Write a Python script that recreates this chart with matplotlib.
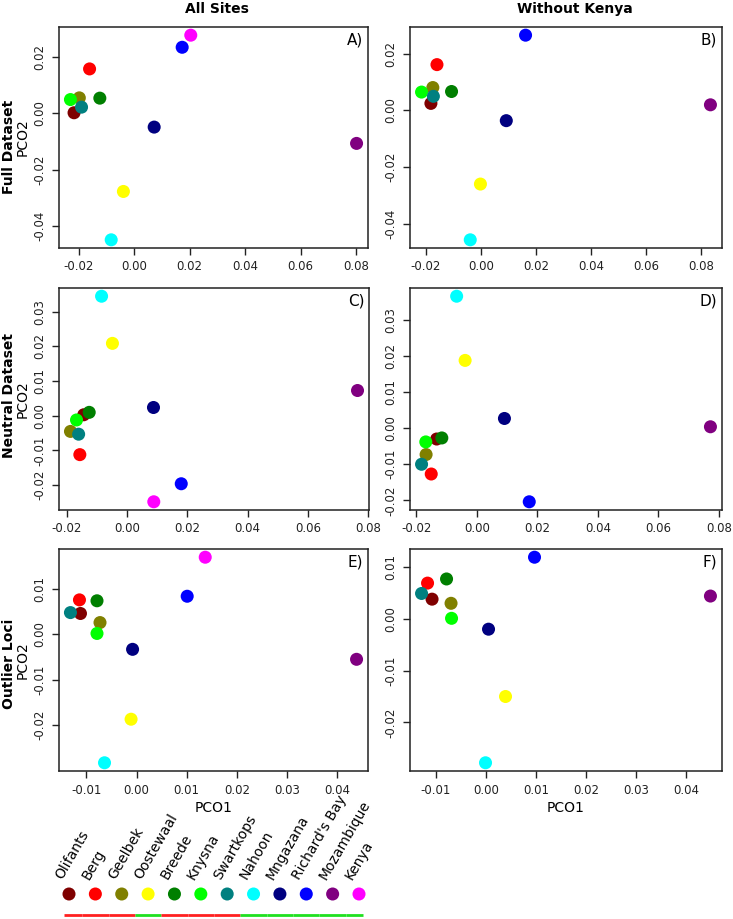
import numpy as np
import matplotlib
matplotlib.use("Agg")
import matplotlib.pyplot as plt

plt.rcParams['font.family'] = ['DejaVu Sans']

sites = ["Olifants", "Berg", "Geelbek", "Oostewaal", "Breede", "Knysna",
         "Swartkops", "Nahoon", "Mngazana", "Richard's Bay", "Mozambique", "Kenya"]
site_cols = ["#7f0000", "#ff0000", "#808000", "#ffff00", "#007f00", "#00ff00",
             "#008080", "#00ffff", "#000080", "#0000ff", "#800080", "#ff00ff"]
# region bar under the legend: r = red, g = green
region = ["r", "r", "r", "g", "r", "r", "r", "g", "g", "g", "g", "g"]
region_cols = {"r": "#ff2020", "g": "#20e020"}

# A) full dataset, all sites
full_all_x = [-0.0217, -0.0161, -0.0198, -0.0039, -0.0124, -0.0230,
              -0.0190, -0.0083, 0.0072, 0.0173, 0.0802, 0.0204]
full_all_y = [0.0002, 0.0158, 0.0055, -0.0278, 0.0054, 0.0049,
              0.0022, -0.0450, -0.0049, 0.0235, -0.0107, 0.0278]
# B) full dataset, without Kenya
full_nok_x = [-0.0182, -0.0160, -0.0175, -0.0002, -0.0107, -0.0216,
              -0.0173, -0.0039, 0.0092, 0.0162, 0.0834]
full_nok_y = [0.0025, 0.0162, 0.0081, -0.0260, 0.0067, 0.0065,
              0.0050, -0.0457, -0.0036, 0.0266, 0.0020]
# C) neutral dataset, all sites
neut_all_x = [-0.0143, -0.0156, -0.0187, -0.0048, -0.0125, -0.0167,
              -0.0160, -0.0084, 0.0088, 0.0180, 0.0764, 0.0089]
neut_all_y = [0.0003, -0.0112, -0.0045, 0.0209, 0.0010, -0.0012,
              -0.0053, 0.0345, 0.0024, -0.0196, 0.0073, -0.0248]
# D) neutral dataset, without Kenya
neut_nok_x = [-0.0133, -0.0151, -0.0168, -0.0039, -0.0116, -0.0169,
              -0.0183, -0.0067, 0.0091, 0.0173, 0.0772]
neut_nok_y = [-0.0030, -0.0127, -0.0073, 0.0188, -0.0027, -0.0038,
              -0.0100, 0.0366, 0.0027, -0.0204, 0.0004]
# E) outlier loci, all sites
outl_all_x = [-0.0112, -0.0114, -0.0073, -0.0011, -0.0079, -0.0079,
              -0.0132, -0.0064, -0.0008, 0.0101, 0.0439, 0.0137]
outl_all_y = [0.0046, 0.0076, 0.0026, -0.0187, 0.0074, 0.0002,
              0.0048, -0.0283, -0.0033, 0.0084, -0.0055, 0.0170]
# F) outlier loci, without Kenya
outl_nok_x = [-0.0108, -0.0117, -0.0070, 0.0039, -0.0079, -0.0069,
              -0.0129, -0.0001, 0.0005, 0.0097, 0.0449]
outl_nok_y = [0.0038, 0.0069, 0.0030, -0.0150, 0.0077, 0.0001,
              0.0049, -0.0278, -0.0020, 0.0119, 0.0044]

W, H = 733, 919
fig = plt.figure(figsize=(W / 100, H / 100), dpi=100)


def px_axes(left, right, top, bottom):
    return fig.add_axes([left / W, (H - bottom) / H, (right - left) / W, (bottom - top) / H])


def panel(ax, xs, ys, label, xt, yt):
    n = len(xs)
    ax.scatter(xs, ys, s=88, c=site_cols[:n], edgecolors="none", zorder=3)
    ax.margins(0.04)
    ax.set_xticks(xt)
    ax.set_yticks(yt)
    ax.xaxis.set_major_formatter(matplotlib.ticker.FormatStrFormatter("%.2f"))
    ax.yaxis.set_major_formatter(matplotlib.ticker.FormatStrFormatter("%.2f"))
    ax.tick_params(length=5, width=1, labelsize=8.5, pad=4, colors="#222222")
    ax.tick_params(axis="y", labelrotation=90)
    for t in ax.get_yticklabels():
        t.set_va("center")
    for s in ax.spines.values():
        s.set_linewidth(1.1)
        s.set_color("#222222")
    ax.text(0.985, 0.975, label, transform=ax.transAxes, ha="right", va="top", fontsize=11)


xt_full = [-0.02, 0.0, 0.02, 0.04, 0.06, 0.08]
yt_full = [-0.04, -0.02, 0.0, 0.02]
yt_neut = [-0.02, -0.01, 0.0, 0.01, 0.02, 0.03]
xt_outl = [-0.01, 0.0, 0.01, 0.02, 0.03, 0.04]
yt_outl = [-0.02, -0.01, 0.0, 0.01]

axA = px_axes(59, 368, 27, 248)
axB = px_axes(410, 722, 27, 248)
axC = px_axes(59, 369, 288, 510)
axD = px_axes(410, 722, 288, 510)
axE = px_axes(59, 368, 549, 771)
axF = px_axes(410, 722, 549, 771)

panel(axA, full_all_x, full_all_y, "A)", xt_full, yt_full)
panel(axB, full_nok_x, full_nok_y, "B)", xt_full, yt_full)
panel(axC, neut_all_x, neut_all_y, "C)", xt_full, yt_neut)
panel(axD, neut_nok_x, neut_nok_y, "D)", xt_full, yt_neut)
panel(axE, outl_all_x, outl_all_y, "E)", xt_outl, yt_outl)
panel(axF, outl_nok_x, outl_nok_y, "F)", xt_outl, yt_outl)

for ax in (axA, axC, axE):
    ax.set_ylabel("PCO2", fontsize=10, labelpad=3)
for ax in (axE, axF):
    ax.set_xlabel("PCO1", fontsize=10, labelpad=3)

fig.text(217 / W, 1 - 9 / H, "All Sites", ha="center", va="center", fontsize=10, fontweight="bold")
fig.text(575 / W, 1 - 9 / H, "Without Kenya", ha="center", va="center", fontsize=10, fontweight="bold")
for txt, yc in (("Full Dataset", 147), ("Neutral Dataset", 395), ("Outlier Loci", 664)):
    fig.text(9 / W, 1 - yc / H, txt, ha="center", va="center", rotation=90,
             fontsize=10, fontweight="bold")

# legend strip
leg = px_axes(69, 359, 894, 915)
leg.set_xlim(0, len(sites) - 1)
leg.set_ylim(-1, 0)
leg.axis("off")
idx = np.arange(len(sites))
leg.scatter(idx, np.zeros(len(sites)), s=88, c=site_cols, edgecolors="none", clip_on=False)
for i, name in enumerate(sites):
    leg.annotate(name, (i, 0), xytext=(-3, 9), textcoords="offset points",
                 rotation=60, rotation_mode="anchor", ha="left", va="bottom", fontsize=10)
    x0 = max(i - 0.5, -0.19)
    x1 = min(i + 0.5, len(sites) - 0.85)
    leg.plot([x0, x1], [-1, -1], color=region_cols[region[i]], lw=2,
             solid_capstyle="butt", clip_on=False)

fig.savefig("out.png", dpi=100)
